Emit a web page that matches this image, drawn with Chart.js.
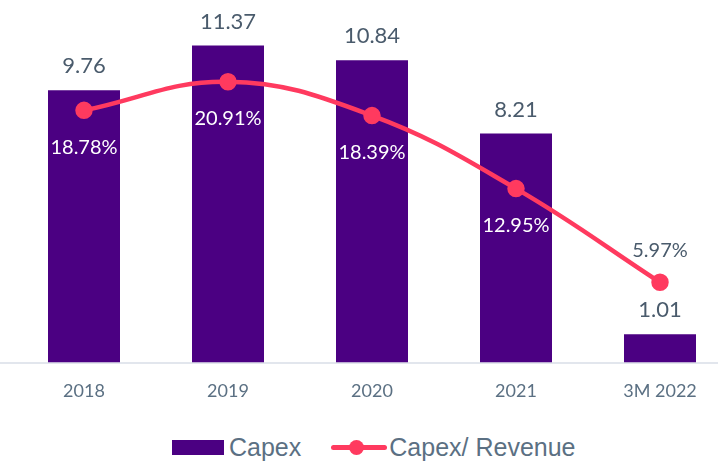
<!DOCTYPE html>
<html>
<head>
<meta charset="utf-8">
<script src="https://cdn.jsdelivr.net/npm/chart.js@4"></script>
<style>
  html, body { margin: 0; padding: 0; background: #fff; }
  body { width: 718px; height: 464px; overflow: hidden; position: relative; font-family: Lato, sans-serif; }
  #wrap { position: absolute; left: 0; top: 0; width: 732px; height: 412px; }
  .legend { position: absolute; top: 433px; left: 172px; height: 28px; display: flex; align-items: center; color: #5b7083; font-family: "Liberation Sans", Arial, sans-serif; font-size: 25px; }
  .sw-bar { width: 52px; height: 15px; background: #4b0082; margin-right: 5px; }
  .sw-line { position: relative; width: 56px; height: 5px; background: #ff3a5f; margin-left: 30px; margin-right: 2px; border-radius: 3px; }
  .sw-line::after { content: ''; position: absolute; left: 18px; top: -5px; width: 15px; height: 15px; border-radius: 50%; background: #ff3a5f; }
</style>
</head>
<body>
<div id="wrap"><canvas id="capexChart" width="732" height="412"></canvas></div>
<div class="legend">
  <span class="sw-bar"></span><span>Capex</span>
  <span class="sw-line"></span><span>Capex/ Revenue</span>
</div>
<script>
const years      = ['2018', '2019', '2020', '2021', '3M 2022'];
const capex      = [9.76, 11.37, 10.84, 8.21, 1.01];
const capexRatio = [18.78, 20.91, 18.39, 12.95, 5.97];
// ratio labels sit inside the bars except the last one, which goes above its point
const ratioBelow = [true, true, true, true, false];

const BAR  = '#4b0082';
const LINE = '#ff3a5f';
const GREY = '#4a5b6c';

/* value labels + full-width baseline */
const labelPlugin = {
  id: 'valueLabels',
  beforeDatasetsDraw(chart) {
    const { ctx, chartArea } = chart;
    ctx.save();
    ctx.strokeStyle = '#d9dee7';
    ctx.lineWidth = 1.5;
    ctx.beginPath();
    ctx.moveTo(0, chartArea.bottom + 0.5);
    ctx.lineTo(chart.width, chartArea.bottom + 0.5);
    ctx.stroke();
    ctx.restore();
  },
  afterDatasetsDraw(chart) {
    const { ctx } = chart;
    ctx.save();
    ctx.textAlign = 'center';
    ctx.textBaseline = 'middle';

    ctx.font = '22px Lato';
    chart.getDatasetMeta(1).data.forEach((bar, i) => {
      ctx.fillStyle = GREY;
      ctx.fillText(capex[i].toFixed(2), bar.x, bar.y - 24);
    });

    ctx.font = '20px Lato';
    chart.getDatasetMeta(0).data.forEach((pt, i) => {
      if (ratioBelow[i]) {
        ctx.fillStyle = '#ffffff';
        ctx.fillText(capexRatio[i].toFixed(2) + '%', pt.x, pt.y + 37);
      } else {
        ctx.fillStyle = GREY;
        ctx.fillText(capexRatio[i].toFixed(2) + '%', pt.x, pt.y - 32);
      }
    });
    ctx.restore();
  }
};

new Chart(document.getElementById('capexChart'), {
  type: 'bar',
  data: {
    labels: years,
    datasets: [
      {
        type: 'line',
        label: 'Capex/ Revenue',
        data: capexRatio,
        yAxisID: 'y1',
        borderColor: LINE,
        backgroundColor: LINE,
        borderWidth: 4.5,
        tension: 0.4,
        pointRadius: 6.5,
        pointHoverRadius: 6.5,
        order: 0
      },
      {
        label: 'Capex',
        data: capex,
        yAxisID: 'y',
        backgroundColor: BAR,
        categoryPercentage: 1,
        barPercentage: 0.5,
        order: 1
      }
    ]
  },
  options: {
    responsive: false,
    animation: false,
    devicePixelRatio: 1,
    layout: { autoPadding: false, padding: { left: 12, right: 0, top: 0, bottom: 0 } },
    plugins: {
      legend: { display: false },
      tooltip: { enabled: false }
    },
    scales: {
      x: {
        grid: { display: false },
        border: { display: false },
        ticks: { color: '#5b7083', font: { family: 'Lato', size: 18 }, padding: 10 }
      },
      y:  { display: false, min: 0, max: 13 },
      y1: { display: false, min: 0, max: 27, position: 'right' }
    }
  },
  plugins: [labelPlugin]
});
</script>
</body>
</html>
